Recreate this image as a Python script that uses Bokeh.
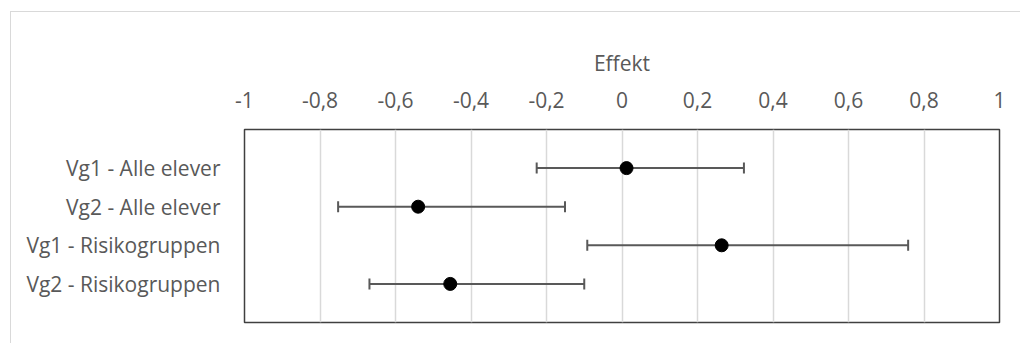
from bokeh.plotting import figure
from bokeh.models import Range1d, FixedTicker, Whisker, TeeHead, ColumnDataSource
from bokeh.embed import file_html
from bokeh.resources import INLINE

categories = ["Vg1 - Alle elever", "Vg2 - Alle elever", "Vg1 - Risikogruppen", "Vg2 - Risikogruppen"]
effect = [0.012, -0.540, 0.264, -0.455]
lower = [-0.226, -0.752, -0.092, -0.669]
upper = [0.323, -0.151, 0.758, -0.100]
x_ticks = [-1, -0.8, -0.6, -0.4, -0.2, 0, 0.2, 0.4, 0.6, 0.8, 1]
x_tick_labels = ["-1", "-0,8", "-0,6", "-0,4", "-0,2", "0", "0,2", "0,4", "0,6", "0,8", "1"]

n = len(categories)
ypos = [n - i for i in range(n)]
src = ColumnDataSource(dict(x=effect, y=ypos, lo=lower, hi=upper))

FONT = "Open Sans"
TXT = "#595959"
FS = "21px"

p = figure(width=1010, height=332, output_backend="svg", toolbar_location=None,
           x_range=Range1d(-1, 1), y_range=Range1d(0, n + 1),
           x_axis_location="above",
           min_border_left=233, min_border_right=22, min_border_top=117, min_border_bottom=22)
p.styles = {"border-left": "1px solid #d9d9d9", "border-top": "1px solid #d9d9d9",
            "margin-left": "10px", "margin-top": "11px"}

p.outline_line_color = "#404040"
p.outline_line_width = 1.5

p.xgrid.ticker = FixedTicker(ticks=x_ticks)
p.xgrid.grid_line_color = "#d9d9d9"
p.xgrid.grid_line_width = 1.5
p.ygrid.visible = False

xa = p.xaxis[0]
xa.ticker = FixedTicker(ticks=x_ticks)
xa.major_label_overrides = {t: l for t, l in zip(x_ticks, x_tick_labels)}
xa.axis_label = "Effekt"
xa.axis_line_color = None
xa.major_tick_line_color = None
xa.minor_tick_line_color = None
xa.major_label_standoff = 16
xa.axis_label_standoff = 12
xa.major_label_text_font = FONT
xa.major_label_text_font_size = FS
xa.major_label_text_color = TXT
xa.axis_label_text_font = FONT
xa.axis_label_text_font_size = FS
xa.axis_label_text_font_style = "normal"
xa.axis_label_text_color = TXT

ya = p.yaxis[0]
ya.ticker = FixedTicker(ticks=ypos)
ya.major_label_overrides = {y: c for y, c in zip(ypos, categories)}
ya.axis_line_color = None
ya.major_tick_line_color = None
ya.minor_tick_line_color = None
ya.major_label_standoff = 18
ya.major_label_text_font = FONT
ya.major_label_text_font_size = FS
ya.major_label_text_color = TXT

w = Whisker(source=src, base="y", lower="lo", upper="hi", dimension="width",
            line_color="#595959", line_width=2,
            lower_head=TeeHead(size=11, line_color="#595959", line_width=2),
            upper_head=TeeHead(size=11, line_color="#595959", line_width=2))
p.add_layout(w)

p.scatter("x", "y", source=src, size=13, color="black")

open("out.html", "w").write(file_html(p, INLINE))
